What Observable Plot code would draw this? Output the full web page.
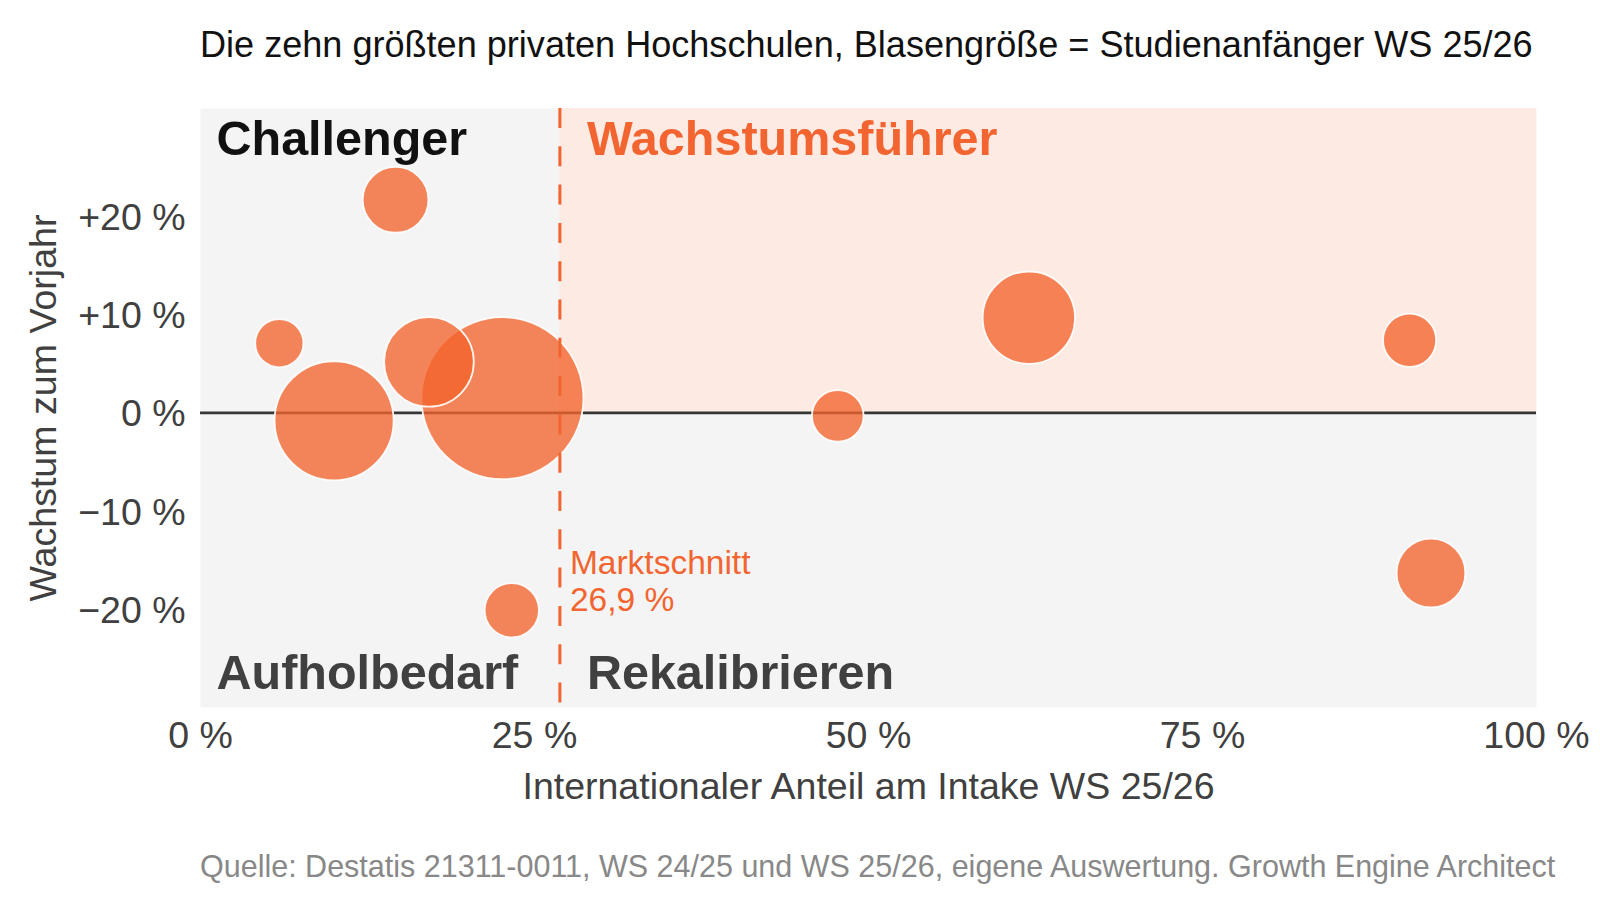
<!DOCTYPE html>
<html>
<head>
<meta charset="utf-8">
<script src="https://cdn.jsdelivr.net/npm/d3@7"></script>
<script src="https://cdn.jsdelivr.net/npm/@observablehq/plot@0.6"></script>
<style>
  body { margin: 0; background: #fff; font-family: "Liberation Sans", Arial, sans-serif; }
  #wrap { width: 1600px; }
  #title { box-sizing: border-box; height: 80px; padding-top: 27px; padding-left: 200px; font-size: 36.1px; line-height: 36px; color: #111; white-space: nowrap; }
  #caption { box-sizing: border-box; height: 60px; padding-top: 11px; padding-left: 200px; font-size: 30.5px; line-height: 30px; color: #888; white-space: nowrap; }
  #chart svg { display: block; }
</style>
</head>
<body>
<div id="wrap">
  <div id="title"></div>
  <div id="chart"></div>
  <div id="caption"></div>
</div>
<script>
// ---- Texts ----
const titleText = "Die zehn größten privaten Hochschulen, Blasengröße = Studienanfänger WS 25/26";
const captionText = "Quelle: Destatis 21311-0011, WS 24/25 und WS 25/26, eigene Auswertung. Growth Engine Architect";
const xLabel = "Internationaler Anteil am Intake WS 25/26";
const yLabel = "Wachstum zum Vorjahr";
const quadrantTopLeft = "Challenger";
const quadrantTopRight = "Wachstumsführer";
const quadrantBottomLeft = "Aufholbedarf";
const quadrantBottomRight = "Rekalibrieren";
const avgLabel = "Marktschnitt";

// ---- Data ----
const intlShare = [14.6, 5.9, 10.0, 17.1, 22.6, 23.3, 47.7, 62.0, 90.5, 92.1];   // % international share of intake
const growth    = [21.7, 7.1, -0.8, 5.2, 1.5, -20.1, -0.3, 9.7, 7.4, -16.3];     // % growth vs previous year
const intake    = [1070, 575, 3510, 1990, 6500, 730, 660, 2110, 700, 1170];     // Studienanfänger WS 25/26 (bubble size)
const avgShare  = 26.9;

const xTicks = [0, 25, 50, 75, 100];
const yTicks = [-20, -10, 0, 10, 20];
const xDomain = [0, 100];
const yDomain = [-30, 31];

const rows = intlShare.map((s, i) => ({share: s, growth: growth[i], intake: intake[i]}));

// ---- Styles ----
const orange = "#F26430";
const font = "'Liberation Sans', Arial, sans-serif";
const fmtX = d => `${d} %`;
const fmtY = d => d > 0 ? `+${d} %` : d < 0 ? `\u2212${Math.abs(d)} %` : "0 %";

document.getElementById("title").textContent = titleText;
document.getElementById("caption").textContent = captionText;

const chart = Plot.plot({
  width: 1600,
  height: 760,
  marginTop: 28,
  marginBottom: 133,
  marginLeft: 200,
  marginRight: 64,
  style: {fontFamily: font, background: "transparent", overflow: "visible"},
  x: {domain: xDomain},
  y: {domain: yDomain},
  r: {domain: [0, 6500], range: [0, 81]},
  marks: [
    Plot.frame({fill: "#F4F4F4", stroke: "none"}),
    Plot.rect([avgShare], {x1: d => d, x2: () => xDomain[1], y1: () => 0, y2: () => yDomain[1], fill: "#FDEAE2"}),
    Plot.ruleY([0], {stroke: "#363636", strokeWidth: 2.6}),
    Plot.dot(rows, {
      x: "share", y: "growth", r: "intake",
      fill: "#F2632C", fillOpacity: 0.78,
      stroke: "white", strokeWidth: 1.8, strokeOpacity: 0.9
    }),
    Plot.ruleX([avgShare], {stroke: orange, strokeWidth: 3, strokeDasharray: "20,18.3"}),
    // Axes
    Plot.axisX(xTicks, {tickFormat: fmtX, tickSize: 0, tickPadding: 14, fontSize: 37.5, color: "#404040", label: null}),
    Plot.axisY(yTicks, {tickFormat: fmtY, tickSize: 0, tickPadding: 15, dy: 1.5, fontSize: 37.5, color: "#404040", label: null}),
    Plot.text([xLabel], {text: d => d, frameAnchor: "bottom", lineAnchor: "bottom", dy: 91, fontSize: 37.5, fill: "#404040"}),
    Plot.text([yLabel], {text: d => d, frameAnchor: "left", rotate: -90, textAnchor: "middle", lineAnchor: "middle", dx: -157, fontSize: 37.6, fill: "#404040"}),
    // Quadrant labels
    Plot.text([quadrantTopLeft], {text: d => d, frameAnchor: "top-left", textAnchor: "start", lineAnchor: "top", dx: 16, dy: 12, fontSize: 48.5, fontWeight: "bold", fill: "#111"}),
    Plot.text([quadrantBottomLeft], {text: d => d, frameAnchor: "bottom-left", textAnchor: "start", lineAnchor: "bottom", dx: 16, dy: -18.7, fontSize: 48.5, fontWeight: "bold", fill: "#404040"}),
    Plot.text([avgShare], {x: d => d, text: () => quadrantTopRight, frameAnchor: "top", textAnchor: "start", lineAnchor: "top", dx: 27, dy: 12, fontSize: 48.5, fontWeight: "bold", fill: orange}),
    Plot.text([avgShare], {x: d => d, text: () => quadrantBottomRight, frameAnchor: "bottom", textAnchor: "start", lineAnchor: "bottom", dx: 27, dy: -18.7, fontSize: 48.5, fontWeight: "bold", fill: "#404040"}),
    // Market average label
    Plot.text([avgShare], {x: d => d, text: d => `${avgLabel}\n${String(d).replace(".", ",")} %`, frameAnchor: "bottom", textAnchor: "start", lineAnchor: "bottom", lineHeight: 1.12, dx: 10, dy: -96.3, fontSize: 33.5, fill: orange})
  ]
});

document.getElementById("chart").appendChild(chart);
</script>
</body>
</html>
